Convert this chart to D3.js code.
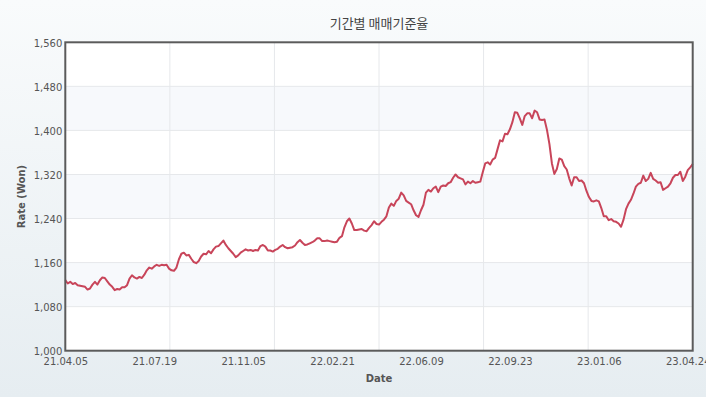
<!DOCTYPE html>
<html><head><meta charset="utf-8">
<script src="https://cdn.jsdelivr.net/npm/d3@7"></script>
<style>html,body{margin:0;padding:0;}svg{display:block;}</style>
</head><body>
<script>
const chartTitle = "기간별 매매기준율";
const xTitle = "Date";
const yTitle = "Rate (Won)";
const tickLabels = ["21.04.05","21.07.19","21.11.05","22.02.21","22.06.09","22.09.23","23.01.06","23.04.24"];
const tickIndexStep = 36;
const yTicks = [1000,1080,1160,1240,1320,1400,1480,1560];
const bandRanges = [[1080,1160],[1240,1320],[1400,1480]];
const rates = [
1128,1122,1125,1121,1123,1119,1118,1117,1116,1111,
1113,1120,1125,1120,1128,1133,1132,1126,1120,1116,
1110,1112,1111,1115,1115,1119,1131,1137,1133,1131,
1134,1132,1138,1146,1151,1149,1153,1156,1154,1156,
1155,1156,1149,1146,1145,1151,1166,1176,1178,1173,
1174,1167,1161,1159,1163,1171,1176,1175,1181,1177,
1184,1189,1190,1195,1200,1192,1186,1181,1176,1170,
1173,1178,1181,1184,1182,1183,1181,1183,1182,1190,
1192,1189,1182,1182,1180,1183,1185,1189,1192,1188,
1186,1187,1188,1191,1197,1201,1196,1192,1193,1195,
1197,1200,1204,1204,1199,1199,1200,1199,1198,1197,
1198,1205,1208,1224,1235,1240,1231,1219,1219,1220,
1221,1218,1217,1223,1228,1235,1230,1229,1234,1238,
1244,1260,1267,1263,1272,1276,1287,1282,1272,1269,
1266,1255,1246,1243,1255,1265,1287,1292,1289,1295,
1298,1288,1298,1300,1299,1304,1306,1314,1320,1315,
1313,1311,1302,1307,1304,1308,1305,1306,1307,1324,
1340,1342,1338,1347,1350,1366,1382,1380,1394,1393,
1402,1415,1433,1432,1422,1410,1426,1431,1431,1422,
1436,1433,1420,1419,1420,1401,1375,1340,1321,1330,
1349,1347,1335,1329,1313,1300,1315,1315,1308,1309,
1304,1290,1279,1272,1271,1273,1271,1259,1244,1244,
1237,1239,1235,1234,1231,1225,1238,1257,1267,1274,
1285,1298,1303,1305,1318,1308,1312,1323,1312,1309,
1305,1306,1292,1295,1298,1304,1314,1319,1319,1325,
1308,1316,1328,1333,1339
];

const W = 706, H = 397;
const M = {top: 42.3, right: 13.3, bottom: 46.3, left: 65.3};
const iw = W - M.left - M.right, ih = H - M.top - M.bottom;

const svg = d3.select("body").append("svg").attr("width", W).attr("height", H);
const defs = svg.append("defs");
const grad = defs.append("linearGradient").attr("id","bg").attr("x1",0).attr("y1",0).attr("x2",0).attr("y2",1);
grad.append("stop").attr("offset","0%").attr("stop-color","#f9fbfc");
grad.append("stop").attr("offset","100%").attr("stop-color","#e6edf1");
svg.append("rect").attr("width",W).attr("height",H).attr("fill","url(#bg)");

const x = d3.scaleLinear().domain([0, rates.length - 1]).range([0, iw]);
const y = d3.scaleLinear().domain([1000, 1560]).range([ih, 0]);

const g = svg.append("g").attr("transform", `translate(${M.left},${M.top})`);
g.append("rect").attr("width", iw).attr("height", ih).attr("fill", "#fff");

g.selectAll("rect.band").data(bandRanges).join("rect").attr("class","band")
  .attr("x",0).attr("width",iw)
  .attr("y", d => y(d[1])).attr("height", d => y(d[0]) - y(d[1]))
  .attr("fill","#f7f9fc");

g.selectAll("line.hg").data(yTicks.slice(1,-1)).join("line").attr("class","hg")
  .attr("x1",0).attr("x2",iw).attr("y1",d=>y(d)).attr("y2",d=>y(d))
  .attr("stroke","#e6e8eb").attr("stroke-width",1);

const vGrid = d3.range(1,6).map(k => k * (rates.length - 1) / 6);
g.selectAll("line.vg").data(vGrid).join("line").attr("class","vg")
  .attr("x1",d=>x(d)).attr("x2",d=>x(d)).attr("y1",0).attr("y2",ih)
  .attr("stroke","#e6e8eb").attr("stroke-width",1);

const line = d3.line().x((d,i)=>x(i)).y(d=>y(d));
g.append("path").datum(rates).attr("d", line)
  .attr("fill","none").attr("stroke","#c8455a").attr("stroke-width",2)
  .attr("stroke-linejoin","round");

g.append("rect").attr("width", iw).attr("height", ih).attr("fill","none")
  .attr("stroke","#5b5b5b").attr("stroke-width",2);

// y axis
const yAxis = d3.axisLeft(y).tickValues(yTicks).tickSize(0).tickPadding(3)
  .tickFormat(d3.format(","));
const ya = g.append("g").call(yAxis);
ya.select(".domain").remove();
ya.selectAll("text").attr("font-family","'DejaVu Sans', Verdana, sans-serif")
  .attr("font-size","10px").attr("fill","#555").attr("dy","0.4em");

// x axis
const xAxis = d3.axisBottom(x).tickValues(tickLabels.map((d,i)=>i*tickIndexStep))
  .tickSize(0).tickPadding(7).tickFormat((d,i)=>tickLabels[i]);
const xa = g.append("g").attr("transform",`translate(0,${ih})`).call(xAxis);
xa.select(".domain").remove();
xa.selectAll("text").attr("font-family","'DejaVu Sans', Verdana, sans-serif")
  .attr("font-size","10px").attr("fill","#555");

svg.append("text").attr("x", M.left + iw/2).attr("y", 28).attr("text-anchor","middle")
  .attr("font-family","'Noto Sans CJK KR', sans-serif").attr("font-size","13px")
  .attr("fill","#444").text(chartTitle);

svg.append("text").attr("x", M.left + iw/2).attr("y", 382).attr("text-anchor","middle")
  .attr("font-family","'DejaVu Sans', Verdana, sans-serif").attr("font-size","10px")
  .attr("font-weight","bold").attr("fill","#555").text(xTitle);

svg.append("text").attr("transform",`translate(25,${M.top + ih/2}) rotate(-90)`)
  .attr("text-anchor","middle")
  .attr("font-family","'DejaVu Sans', Verdana, sans-serif").attr("font-size","10px")
  .attr("font-weight","bold").attr("fill","#555").text(yTitle);
</script>
</body></html>
